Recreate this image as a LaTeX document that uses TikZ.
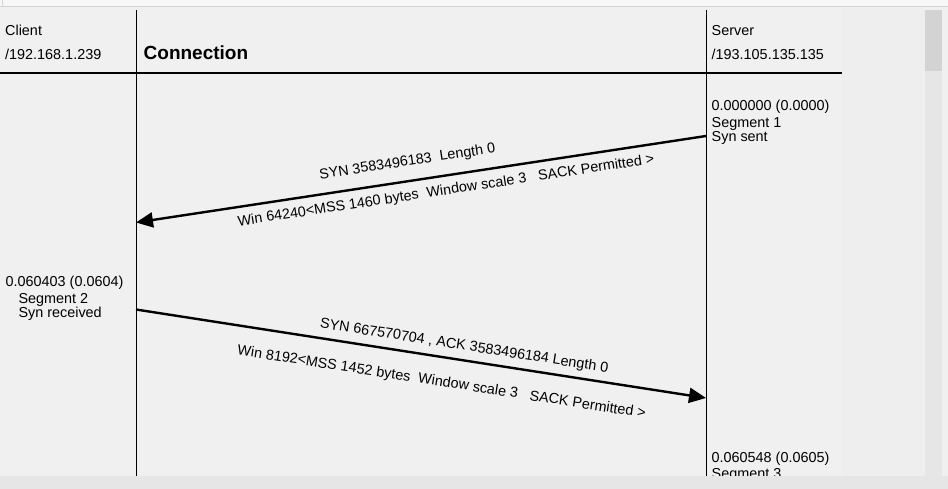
\documentclass[tikz,border=0pt]{standalone}
\usepackage{fontspec}
\setmainfont{Liberation Sans}
\usetikzlibrary{arrows.meta, positioning}

\definecolor{panelbg}{HTML}{F0F0F0}
\definecolor{sidebg}{HTML}{EEEEEE}
\definecolor{topbar}{HTML}{F7F7F7}
\definecolor{topedge}{HTML}{D4D4D4}
\definecolor{trackbg}{HTML}{E6E6E6}
\definecolor{thumbbg}{HTML}{D3D3D3}
\definecolor{bottombar}{HTML}{E6E6E6}

\begin{document}
\begin{tikzpicture}[
    x=1pt, y=-1pt,
    lbl/.style={anchor=base west, inner sep=0pt, font=\fontsize{14.4}{16}\selectfont},
    title/.style={anchor=base west, inner sep=0pt, font=\fontsize{19}{22}\selectfont\bfseries},
    msglbl/.style={inner sep=0pt, sloped, font=\fontsize{14.4}{16}\selectfont},
    lifeline/.style={draw=black, line width=1pt},
    msg/.style={draw=black, line width=2.4pt, -{Triangle[length=17pt, width=15pt]}}
]
    \useasboundingbox (0,0) rectangle (948,489);

    % Window background
    \fill[panelbg] (0,0) rectangle (948,489);
    \fill[sidebg] (842,8) rectangle (925,476);
    \fill[topbar] (0,0) rectangle (948,6);
    \draw[topedge, line width=1.5pt] (0,6.5) -- (948,6.5);
    \draw[topedge] (2.5,0) -- (2.5,6);
    \fill[trackbg] (925,10) rectangle (942,476);
    \fill[thumbbg] (925,10) rectangle (942,71);

    % Header
    \node (client) [lbl] at (5,36) {Client};
    \node (clientip) [lbl] at (5,59.5) {/192.168.1.239};
    \node (conn) [title] at (143.5,60) {Connection};
    \node (server) [lbl] at (711.5,36) {Server};
    \node (serverip) [lbl] at (711.5,59.5) {/193.105.135.135};

    \coordinate (hdleft) at (0,73);
    \coordinate (hdright) at (842,73);
    \draw[line width=1.3pt] (hdleft) -- (hdright);

    % Lifelines
    \coordinate (cltop) at (136,10);
    \coordinate (clbot) at (136,476);
    \coordinate (svtop) at (706,10);
    \coordinate (svbot) at (706,476);
    \draw[lifeline] (cltop) -- (clbot);
    \draw[lifeline] (svtop) -- (svbot);

    % Segment 1 (server side)
    \node (time1) [lbl] at (711.5,111) {0.000000 (0.0000)};
    \node (seg1) [lbl, below=17pt of time1.base west, anchor=base west] {Segment 1};
    \node (state1) [lbl, below=14pt of seg1.base west, anchor=base west] {Syn sent};

    % Segment 2 (client side)
    \node (time2) [lbl] at (5.5,287) {0.060403 (0.0604)};
    \node (seg2) [lbl, below=16pt of time2.base west, anchor=base west, xshift=12.8pt] {Segment 2};
    \node (state2) [lbl, below=14pt of seg2.base west, anchor=base west] {Syn received};

    % Segment 3 (server side)
    \node (time3) [lbl] at (711.5,462) {0.060548 (0.0605)};
    \node (seg3) [lbl, below=16pt of time3.base west, anchor=base west] {Segment 3};

    % Messages
    \coordinate (s1) at (706,136);
    \coordinate (c1) at (136,222.5);
    \coordinate (c2) at (136,309.5);
    \coordinate (s2) at (706,398);

    \draw[msg] (s1) --
        node[msglbl, pos=0.519, above=11pt] {SYN 3583496183\ \ Length 0}
        node[msglbl, pos=0.46, below=7.5pt] {Win 64240<MSS 1460 bytes\ \ Window scale 3\ \ \ SACK Permitted >}
        (c1);
    \draw[msg] (c2) --
        node[msglbl, pos=0.572, above=6pt] {SYN 667570704 , ACK 3583496184 Length 0}
        node[msglbl, pos=0.543, below=17.5pt] {Win 8192<MSS 1452 bytes\ \ Window scale 3\ \ \ SACK Permitted >}
        (s2);

    % Bottom bar
    \fill[bottombar] (0,476) rectangle (948,489);

\end{tikzpicture}
\end{document}
